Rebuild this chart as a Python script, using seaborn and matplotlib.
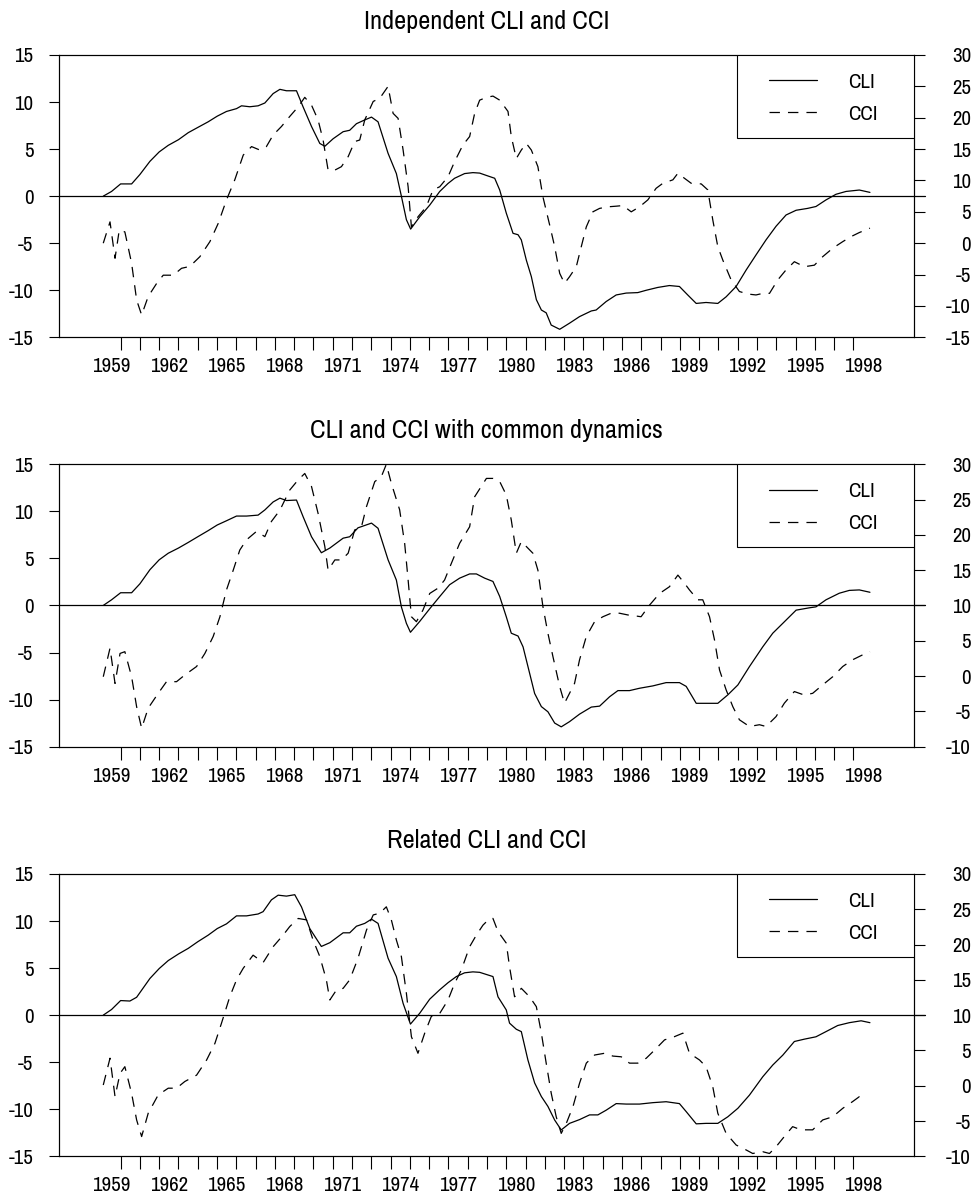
import numpy as np
import matplotlib
matplotlib.use("Agg")
import matplotlib.pyplot as plt
import seaborn as sns
from matplotlib.lines import Line2D
from matplotlib.patches import Rectangle

# ---------------------------------------------------------------- data
titles = ["Independent CLI and CCI",
          "CLI and CCI with common dynamics",
          "Related CLI and CCI"]

# Composite leading indicator (left axis) and consumer confidence (right axis)
cli1_t = [1959.10, 1959.53, 1960.00, 1960.57, 1961.00, 1961.52, 1962.00, 1962.47, 1963.00, 1963.51,
          1964.00, 1964.54, 1965.01, 1965.49, 1966.01, 1966.27, 1966.70, 1967.13, 1967.48, 1967.91,
          1968.26, 1968.60, 1969.12, 1969.46, 1969.90, 1970.33, 1970.59, 1971.02, 1971.54, 1971.88,
          1972.23, 1972.66, 1973.01, 1973.35, 1973.87, 1974.30, 1974.56, 1974.82, 1975.04, 1975.51,
          1976.03, 1976.55, 1976.98, 1977.32, 1977.84, 1978.27, 1978.62, 1978.97, 1979.40, 1979.66,
          1980.00, 1980.35, 1980.61, 1980.78, 1981.04, 1981.30, 1981.56, 1981.82, 1982.07, 1982.33,
          1982.77, 1983.28, 1983.80, 1984.41, 1984.66, 1985.18, 1985.70, 1986.22, 1986.82, 1987.26,
          1987.86, 1988.46, 1988.98, 1989.41, 1989.85, 1990.36, 1990.97, 1991.40, 1991.92, 1992.44,
          1992.95, 1993.47, 1993.99, 1994.51, 1995.03, 1995.63, 1996.06, 1996.58, 1997.10, 1997.62,
          1998.31, 1998.86]
cli1_v = [0.0, 0.5, 1.3, 1.3, 2.3, 3.7, 4.7, 5.4, 6.0, 6.75,
          7.3, 7.9, 8.5, 9.0, 9.3, 9.6, 9.5, 9.6, 9.9, 10.9,
          11.35, 11.2, 11.2, 9.5, 7.4, 5.6, 5.3, 6.1, 6.85, 7.0,
          7.7, 8.1, 8.4, 7.9, 4.55, 2.4, 0.0, -2.5, -3.5, -2.2,
          -0.95, 0.5, 1.35, 1.9, 2.4, 2.5, 2.45, 2.2, 1.9, 0.65,
          -1.8, -3.95, -4.1, -4.65, -6.8, -8.55, -11.0, -12.1, -12.4, -13.7,
          -14.15, -13.5, -12.8, -12.2, -12.1, -11.2, -10.5, -10.3, -10.25, -10.0,
          -9.7, -9.5, -9.6, -10.5, -11.4, -11.3, -11.4, -10.7, -9.6, -7.85,
          -6.25, -4.65, -3.2, -2.0, -1.5, -1.3, -1.1, -0.4, 0.2, 0.5,
          0.65, 0.4]

cci1_t = [1959.10, 1959.45, 1959.71, 1959.93, 1960.22, 1960.57, 1960.83, 1961.09, 1961.43, 1961.87,
          1962.21, 1962.73, 1963.16, 1963.59, 1964.11, 1964.63, 1965.06, 1965.49, 1965.92, 1966.36,
          1966.79, 1967.22, 1967.56, 1967.91, 1968.34, 1968.77, 1969.21, 1969.55, 1969.90, 1970.24,
          1970.50, 1970.76, 1971.11, 1971.45, 1971.80, 1972.14, 1972.40, 1972.66, 1973.10, 1973.44,
          1973.87, 1974.13, 1974.39, 1974.65, 1974.91, 1975.08, 1975.42, 1975.85, 1976.20, 1976.55,
          1976.98, 1977.32, 1977.75, 1978.10, 1978.36, 1978.62, 1978.97, 1979.31, 1979.66, 1980.09,
          1980.26, 1980.52, 1980.78, 1981.04, 1981.30, 1981.64, 1981.90, 1982.25, 1982.51, 1982.77,
          1983.02, 1983.28, 1983.63, 1983.89, 1984.15, 1984.49, 1984.84, 1985.27, 1985.70, 1986.05,
          1986.48, 1986.91, 1987.34, 1987.77, 1988.12, 1988.64, 1988.90, 1989.24, 1989.59, 1990.11,
          1990.45, 1990.71, 1990.97, 1991.23, 1991.66, 1992.09, 1992.52, 1992.95, 1993.30, 1993.65,
          1994.08, 1994.51, 1994.94, 1995.46, 1995.98, 1996.41, 1996.93, 1997.45, 1997.88, 1998.31,
          1998.86]
cci1_v = [0.0, 3.4, -2.4, 2.1, 1.8, -3.2, -9.05, -11.45, -8.5, -6.4,
          -5.1, -5.1, -4.0, -3.7, -2.15, 0.25, 3.15, 6.9, 10.1, 14.05,
          15.4, 14.85, 15.4, 17.25, 18.6, 20.2, 21.75, 23.25, 22.0, 19.65,
          16.45, 11.65, 11.65, 12.2, 13.8, 16.2, 16.45, 19.65, 22.6, 23.1,
          25.0, 20.7, 19.9, 14.85, 9.0, 2.6, 4.2, 5.8, 8.5, 9.0,
          10.6, 13.0, 15.65, 17.0, 20.7, 22.8, 23.25, 23.45, 22.8, 21.0,
          17.0, 13.5, 14.85, 15.9, 14.85, 12.2, 7.4, 2.9, -0.55, -4.8,
          -6.4, -5.35, -3.75, -0.55, 2.6, 5.0, 5.55, 5.8, 5.9, 6.0,
          5.0, 5.8, 6.9, 8.75, 9.55, 10.1, 11.15, 10.35, 9.55, 9.45,
          8.5, 3.7, -0.55, -2.7, -5.85, -7.7, -8.1, -8.25, -8.0, -8.0,
          -5.85, -4.25, -2.95, -3.75, -3.5, -2.15, -0.8, 0.25, 1.05, 1.7,
          2.4]

cli2_t = [1959.10, 1959.53, 1960.00, 1960.57, 1961.00, 1961.52, 1962.00, 1962.47, 1963.00, 1963.51,
          1964.00, 1964.54, 1965.01, 1965.49, 1966.01, 1966.53, 1967.13, 1967.48, 1967.91, 1968.26,
          1968.60, 1969.12, 1969.46, 1969.90, 1970.41, 1970.85, 1971.54, 1971.88, 1972.31, 1973.01,
          1973.35, 1973.87, 1974.30, 1974.56, 1974.82, 1975.03, 1975.51, 1976.03, 1976.55, 1977.06,
          1977.58, 1978.10, 1978.45, 1978.88, 1979.31, 1979.66, 1980.00, 1980.26, 1980.61, 1980.87,
          1981.21, 1981.47, 1981.82, 1982.16, 1982.51, 1982.85, 1983.28, 1983.80, 1984.41, 1984.84,
          1985.36, 1985.79, 1986.39, 1986.91, 1987.60, 1988.29, 1988.98, 1989.33, 1989.85, 1990.36,
          1990.97, 1991.49, 1992.01, 1992.61, 1993.30, 1993.82, 1994.34, 1995.03, 1995.72, 1996.06,
          1996.58, 1997.27, 1997.79, 1998.31, 1998.86]
cli2_v = [0.0, 0.6, 1.35, 1.35, 2.3, 3.8, 4.85, 5.55, 6.1, 6.7,
          7.3, 7.95, 8.55, 9.0, 9.5, 9.5, 9.6, 10.15, 11.0, 11.4,
          11.15, 11.2, 9.45, 7.3, 5.6, 6.1, 7.15, 7.3, 8.25, 8.75,
          8.2, 4.85, 2.7, -0.15, -1.9, -2.85, -1.7, -0.35, 0.95, 2.2,
          2.9, 3.35, 3.35, 2.9, 2.55, 0.95, -1.2, -2.95, -3.25, -4.4,
          -7.2, -9.35, -10.75, -11.3, -12.5, -12.9, -12.35, -11.55, -10.8, -10.7,
          -9.7, -9.05, -9.05, -8.8, -8.55, -8.2, -8.2, -8.6, -10.4, -10.4,
          -10.4, -9.5, -8.45, -6.5, -4.4, -2.95, -1.9, -0.5, -0.25, -0.15,
          0.6, 1.3, 1.6, 1.65, 1.4]

cci2_t = [1959.10, 1959.45, 1959.71, 1959.97, 1960.22, 1960.57, 1960.83, 1961.09, 1961.43, 1961.95,
          1962.38, 1962.90, 1963.33, 1963.94, 1964.37, 1964.80, 1965.15, 1965.49, 1965.84, 1966.18,
          1966.53, 1967.05, 1967.48, 1967.82, 1968.26, 1968.77, 1969.21, 1969.55, 1969.90, 1970.24,
          1970.59, 1970.76, 1971.11, 1971.45, 1971.80, 1972.14, 1972.49, 1972.75, 1973.18, 1973.52,
          1973.78, 1974.04, 1974.47, 1974.73, 1974.91, 1975.08, 1975.34, 1975.68, 1976.03, 1976.46,
          1976.80, 1977.15, 1977.58, 1978.10, 1978.36, 1978.70, 1978.97, 1979.31, 1979.66, 1980.00,
          1980.26, 1980.52, 1980.78, 1981.04, 1981.38, 1981.64, 1981.90, 1982.16, 1982.42, 1982.77,
          1983.02, 1983.28, 1983.54, 1983.80, 1984.15, 1984.58, 1985.01, 1985.44, 1985.87, 1986.31,
          1986.74, 1986.99, 1987.43, 1987.95, 1988.46, 1988.90, 1989.24, 1989.50, 1989.93, 1990.19,
          1990.54, 1990.80, 1991.06, 1991.40, 1991.75, 1992.09, 1992.61, 1993.13, 1993.47, 1993.99,
          1994.42, 1994.94, 1995.46, 1995.89, 1996.41, 1996.93, 1997.45, 1997.96, 1998.48, 1998.86]
cci2_v = [-0.1, 3.95, -1.05, 3.2, 3.45, -0.1, -4.35, -7.4, -4.55, -2.45,
          -0.8, -0.8, 0.15, 1.35, 3.2, 5.6, 8.4, 12.2, 15.0, 17.85,
          19.3, 20.5, 19.75, 21.9, 23.5, 26.35, 27.8, 28.7, 26.85, 23.05,
          18.35, 15.0, 16.45, 16.45, 17.4, 20.7, 21.15, 24.0, 27.55, 28.25,
          30.0, 27.3, 23.55, 18.8, 13.6, 8.4, 7.7, 9.35, 11.7, 12.45,
          13.6, 15.95, 18.8, 21.15, 25.4, 26.85, 28.0, 28.0, 27.55, 25.65,
          22.1, 17.4, 19.05, 18.35, 17.4, 15.0, 9.85, 6.05, 2.75, -1.5,
          -3.85, -2.45, -1.05, 2.3, 5.6, 7.7, 8.4, 8.9, 8.9, 8.65,
          8.5, 8.4, 10.05, 11.7, 12.65, 14.3, 13.15, 12.2, 10.8, 10.8,
          8.4, 5.1, 0.85, -1.95, -4.35, -6.2, -7.15, -6.9, -7.15, -5.75,
          -3.85, -2.2, -2.7, -2.45, -1.25, -0.1, 1.35, 2.3, 3.0, 3.45]

cli3_t = [1959.10, 1959.53, 1960.00, 1960.48, 1960.83, 1961.52, 1962.00, 1962.47, 1963.00, 1963.51,
          1964.00, 1964.54, 1965.01, 1965.49, 1966.01, 1966.53, 1967.13, 1967.39, 1967.82, 1968.17,
          1968.60, 1969.03, 1969.38, 1969.81, 1970.41, 1970.85, 1971.54, 1971.88, 1972.23, 1972.66,
          1973.01, 1973.35, 1973.87, 1974.30, 1974.65, 1975.03, 1975.51, 1976.03, 1976.55, 1976.98,
          1977.41, 1977.84, 1978.27, 1978.62, 1979.31, 1979.57, 1980.00, 1980.17, 1980.52, 1980.78,
          1981.12, 1981.47, 1981.82, 1982.16, 1982.51, 1982.85, 1983.28, 1983.80, 1984.32, 1984.75,
          1985.18, 1985.70, 1986.22, 1986.91, 1987.60, 1988.29, 1988.98, 1989.33, 1989.85, 1990.36,
          1990.97, 1991.49, 1992.01, 1992.61, 1993.30, 1993.82, 1994.34, 1994.94, 1995.46, 1996.06,
          1996.58, 1997.19, 1997.79, 1998.40, 1998.86]
cli3_v = [0.0, 0.6, 1.55, 1.5, 1.9, 3.9, 4.95, 5.8, 6.5, 7.1,
          7.8, 8.5, 9.2, 9.7, 10.55, 10.55, 10.75, 11.0, 12.25, 12.75,
          12.65, 12.8, 11.5, 9.2, 7.3, 7.7, 8.75, 8.75, 9.45, 9.75,
          10.2, 9.75, 6.05, 4.1, 1.25, -0.95, 0.2, 1.7, 2.7, 3.45,
          4.1, 4.5, 4.6, 4.55, 4.1, 1.95, 0.55, -0.85, -1.5, -1.75,
          -4.75, -7.2, -8.65, -9.7, -11.15, -12.2, -11.5, -11.1, -10.6, -10.6,
          -10.1, -9.4, -9.45, -9.45, -9.3, -9.2, -9.4, -10.25, -11.55, -11.5,
          -11.5, -10.8, -9.9, -8.5, -6.55, -5.3, -4.25, -2.8, -2.55, -2.3,
          -1.75, -1.1, -0.8, -0.6, -0.8]

cci3_t = [1959.10, 1959.45, 1959.71, 1959.97, 1960.22, 1960.57, 1960.83, 1961.09, 1961.43, 1961.95,
          1962.47, 1962.90, 1963.33, 1963.94, 1964.46, 1964.89, 1965.23, 1965.66, 1966.01, 1966.36,
          1966.87, 1967.39, 1967.91, 1968.43, 1968.77, 1969.21, 1969.64, 1969.98, 1970.33, 1970.67,
          1970.85, 1971.19, 1971.54, 1971.88, 1972.31, 1972.75, 1973.10, 1973.44, 1973.78, 1974.04,
          1974.30, 1974.56, 1974.82, 1975.08, 1975.42, 1975.77, 1976.11, 1976.55, 1976.98, 1977.32,
          1977.67, 1978.10, 1978.45, 1978.79, 1979.14, 1979.31, 1979.57, 1980.00, 1980.17, 1980.43,
          1980.78, 1981.21, 1981.56, 1981.82, 1982.07, 1982.33, 1982.59, 1982.85, 1983.11, 1983.46,
          1983.80, 1984.15, 1984.58, 1985.10, 1985.53, 1985.96, 1986.39, 1986.82, 1987.26, 1987.69,
          1988.21, 1988.72, 1989.16, 1989.50, 1990.02, 1990.36, 1990.71, 1990.97, 1991.40, 1991.92,
          1992.44, 1992.78, 1993.30, 1993.65, 1993.99, 1994.42, 1994.85, 1995.29, 1995.89, 1996.41,
          1996.93, 1997.45, 1997.96, 1998.31, 1998.57]
cci3_v = [0.1, 3.9, -1.55, 1.75, 2.7, -1.1, -4.85, -7.2, -3.9, -1.3,
          -0.35, -0.35, 0.6, 1.5, 3.65, 6.0, 8.85, 12.6, 15.0, 16.65,
          18.5, 17.45, 19.7, 21.35, 22.55, 23.7, 23.5, 20.65, 18.3, 15.0,
          12.15, 13.55, 13.8, 15.0, 18.05, 22.05, 24.2, 24.45, 25.35, 23.5,
          20.65, 18.3, 13.1, 6.95, 4.6, 7.45, 9.8, 10.25, 12.15, 14.5,
          16.4, 19.7, 21.35, 22.75, 23.7, 23.7, 21.85, 20.2, 16.85, 12.6,
          13.8, 12.6, 11.2, 7.45, 3.2, -1.05, -4.4, -6.75, -5.35, -2.95,
          0.35, 3.2, 4.35, 4.6, 4.2, 4.1, 3.2, 3.2, 3.9, 5.05,
          6.5, 6.95, 7.45, 4.6, 3.65, 2.7, -0.15, -3.9, -6.75, -8.4,
          -9.1, -9.6, -9.35, -9.6, -8.65, -7.2, -5.8, -6.25, -6.25, -4.85,
          -4.4, -3.2, -2.25, -1.55, -2.0]

left_ticks = [-15, -10, -5, 0, 5, 10, 15]
right_ranges = [(-15, 30), (-10, 30), (-10, 30)]
year_ticks = list(range(1960, 1999))
label_years = list(range(1959, 1999, 3))
series_names = ["CLI", "CCI"]

# ---------------------------------------------------------------- style
sns.set_theme(style="ticks")
plt.rcParams["font.family"] = ["Archivo Narrow", "Liberation Sans Narrow", "Liberation Sans", "DejaVu Sans"]
plt.rcParams["lines.scale_dashes"] = False
plt.rcParams["text.color"] = "black"
plt.rcParams["xtick.color"] = "black"
plt.rcParams["ytick.color"] = "black"

DASH = (0, (7.5, 5.8))
LW = 0.9
TICK_FS = 15
FS_PX = TICK_FS * 100 / 72.0

fig = plt.figure(figsize=(9.78, 12.03), dpi=100)

W, H = 978.0, 1203.0
ax_left, ax_right = 59.3, 914.3
ax_tops = [55.0, 464.3, 874.0]
ax_h = 282.3

series = [(cli1_t, cli1_v, cci1_t, cci1_v),
          (cli2_t, cli2_v, cci2_t, cci2_v),
          (cli3_t, cli3_v, cci3_t, cci3_v)]

for i, (title, (ct, cv, kt, kv), (rlo, rhi)) in enumerate(zip(titles, series, right_ranges)):
    top = ax_tops[i]
    ax = fig.add_axes([ax_left / W, 1 - (top + ax_h) / H,
                       (ax_right - ax_left) / W, ax_h / H])
    ax2 = ax.twinx()

    sns.lineplot(x=ct, y=cv, ax=ax, color="black", lw=LW, sort=False)
    sns.lineplot(x=kt, y=kv, ax=ax2, color="black", lw=LW, linestyle=DASH, sort=False)

    ax.axhline(0, xmin=0, xmax=1.0125, color="black", lw=0.9, clip_on=False, zorder=1)

    ax.set_xlim(1956.82, 2001.16)
    ax.set_ylim(-15, 15)
    ax2.set_ylim(rlo, rhi)
    ax.set_ylabel("")
    ax2.set_ylabel("")
    ax.set_xlabel("")

    ax.set_yticks(left_ticks)
    ax.set_yticklabels([str(v) for v in left_ticks])
    rt = list(range(rlo, rhi + 1, 5))
    ax2.set_yticks(rt)
    ax2.set_yticklabels([str(v) for v in rt])

    ax.set_xticks(year_ticks)
    ax.set_xticklabels([])
    ax.set_xticks([y + 0.5 for y in label_years], minor=True)
    ax.set_xticklabels([str(y) for y in label_years], minor=True)

    ax.tick_params(axis="x", which="major", length=9.4, width=0.8, direction="out")
    ax.tick_params(axis="x", which="minor", length=0, pad=14.5, labelsize=TICK_FS)
    ax.tick_params(axis="y", length=7.2, width=0.8, pad=11.5, labelsize=TICK_FS, direction="out")
    ax2.tick_params(axis="y", length=7.9, width=0.8, pad=33, labelsize=TICK_FS, direction="out")
    plt.setp(ax2.get_yticklabels(), ha="right")

    for a in (ax, ax2):
        for s in a.spines.values():
            s.set_visible(True)
            s.set_color("black")
            s.set_linewidth(0.8)

    ax.set_title(title, fontsize=19, pad=19, color="black")

    # legend box anchored at the upper-right corner of the frame
    box = Rectangle((0.7926, 0.7057), 0.2074, 0.2943, transform=ax2.transAxes,
                    facecolor="white", edgecolor="black", lw=0.8, zorder=4)
    ax2.add_patch(box)
    handles = [Line2D([], [], color="black", lw=LW),
               Line2D([], [], color="black", lw=LW, linestyle=DASH)]
    leg = ax2.legend(handles, series_names, loc="upper left",
                     bbox_to_anchor=(0.830, 0.938), frameon=False,
                     borderpad=0, borderaxespad=0, fontsize=TICK_FS,
                     handlelength=48 / FS_PX, handletextpad=31 / FS_PX,
                     labelspacing=0.63)
    leg.set_zorder(6)

fig.savefig("out.png", dpi=100)
